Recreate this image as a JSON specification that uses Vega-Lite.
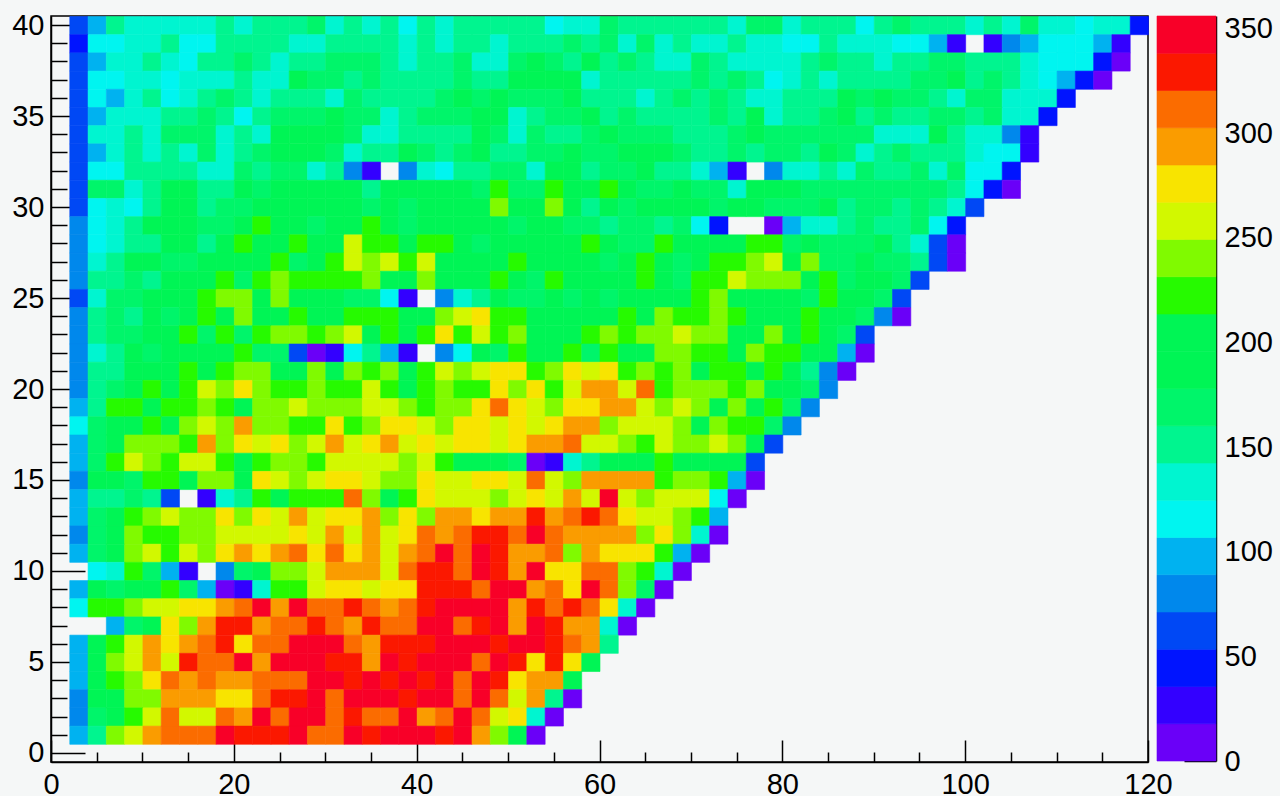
{"$schema":"https://vega.github.io/schema/vega-lite/v6.json","background":"#f5f7f7","padding":{"left":10,"top":10,"right":67,"bottom":35},"bounds":"flush","spacing":9,"config":{"view":{"stroke":null},"axis":{"labelFont":"Liberation Sans","labelFontSize":29,"labelColor":"#000","tickColor":"#000","domainColor":"#000","title":null,"grid":false,"labelFlush":false,"labelOverlap":false,"domainWidth":1.5,"tickWidth":1.5,"zindex":1}},"hconcat":[{"width":1097,"height":746,"view":{"stroke":"#000","strokeWidth":1.5},"data":{"values":[
{"x":3,"y":40,"v":62},{"x":5,"y":40,"v":98},{"x":7,"y":40,"v":151},{"x":9,"y":40,"v":133},{"x":11,"y":40,"v":133},{"x":13,"y":40,"v":133},{"x":15,"y":40,"v":133},{"x":17,"y":40,"v":133},{"x":19,"y":40,"v":151},{"x":21,"y":40,"v":133},{"x":23,"y":40,"v":151},{"x":25,"y":40,"v":151},{"x":27,"y":40,"v":151},{"x":29,"y":40,"v":169},{"x":31,"y":40,"v":133},{"x":33,"y":40,"v":151},{"x":35,"y":40,"v":133},{"x":37,"y":40,"v":151},{"x":39,"y":40,"v":116},{"x":41,"y":40,"v":151},{"x":43,"y":40,"v":133},{"x":45,"y":40,"v":151},{"x":47,"y":40,"v":151},{"x":49,"y":40,"v":151},{"x":51,"y":40,"v":151},{"x":53,"y":40,"v":151},{"x":55,"y":40,"v":116},{"x":57,"y":40,"v":133},{"x":59,"y":40,"v":133},{"x":61,"y":40,"v":169},{"x":63,"y":40,"v":151},{"x":65,"y":40,"v":151},{"x":67,"y":40,"v":151},{"x":69,"y":40,"v":151},{"x":71,"y":40,"v":151},{"x":73,"y":40,"v":151},{"x":75,"y":40,"v":133},{"x":77,"y":40,"v":169},{"x":79,"y":40,"v":169},{"x":81,"y":40,"v":133},{"x":83,"y":40,"v":151},{"x":85,"y":40,"v":151},{"x":87,"y":40,"v":151},{"x":89,"y":40,"v":116},{"x":91,"y":40,"v":151},{"x":93,"y":40,"v":169},{"x":95,"y":40,"v":151},{"x":97,"y":40,"v":151},{"x":99,"y":40,"v":151},{"x":101,"y":40,"v":133},{"x":103,"y":40,"v":151},{"x":105,"y":40,"v":133},{"x":107,"y":40,"v":169},{"x":109,"y":40,"v":133},{"x":111,"y":40,"v":133},{"x":113,"y":40,"v":116},{"x":115,"y":40,"v":133},{"x":117,"y":40,"v":133},{"x":119,"y":40,"v":45},
{"x":3,"y":39,"v":45},{"x":5,"y":39,"v":116},{"x":7,"y":39,"v":116},{"x":9,"y":39,"v":133},{"x":11,"y":39,"v":133},{"x":13,"y":39,"v":151},{"x":15,"y":39,"v":116},{"x":17,"y":39,"v":116},{"x":19,"y":39,"v":151},{"x":21,"y":39,"v":151},{"x":23,"y":39,"v":151},{"x":25,"y":39,"v":151},{"x":27,"y":39,"v":133},{"x":29,"y":39,"v":133},{"x":31,"y":39,"v":151},{"x":33,"y":39,"v":151},{"x":35,"y":39,"v":151},{"x":37,"y":39,"v":151},{"x":39,"y":39,"v":133},{"x":41,"y":39,"v":151},{"x":43,"y":39,"v":133},{"x":45,"y":39,"v":151},{"x":47,"y":39,"v":151},{"x":49,"y":39,"v":133},{"x":51,"y":39,"v":151},{"x":53,"y":39,"v":151},{"x":55,"y":39,"v":151},{"x":57,"y":39,"v":169},{"x":59,"y":39,"v":151},{"x":61,"y":39,"v":169},{"x":63,"y":39,"v":133},{"x":65,"y":39,"v":169},{"x":67,"y":39,"v":133},{"x":69,"y":39,"v":151},{"x":71,"y":39,"v":133},{"x":73,"y":39,"v":133},{"x":75,"y":39,"v":151},{"x":77,"y":39,"v":133},{"x":79,"y":39,"v":133},{"x":81,"y":39,"v":116},{"x":83,"y":39,"v":116},{"x":85,"y":39,"v":151},{"x":87,"y":39,"v":133},{"x":89,"y":39,"v":133},{"x":91,"y":39,"v":133},{"x":93,"y":39,"v":116},{"x":95,"y":39,"v":116},{"x":97,"y":39,"v":98},{"x":99,"y":39,"v":27},{"x":103,"y":39,"v":27},{"x":105,"y":39,"v":80},{"x":107,"y":39,"v":98},{"x":109,"y":39,"v":116},{"x":111,"y":39,"v":116},{"x":113,"y":39,"v":116},{"x":115,"y":39,"v":98},{"x":117,"y":39,"v":27},
{"x":3,"y":38,"v":62},{"x":5,"y":38,"v":98},{"x":7,"y":38,"v":133},{"x":9,"y":38,"v":133},{"x":11,"y":38,"v":151},{"x":13,"y":38,"v":133},{"x":15,"y":38,"v":116},{"x":17,"y":38,"v":151},{"x":19,"y":38,"v":151},{"x":21,"y":38,"v":169},{"x":23,"y":38,"v":151},{"x":25,"y":38,"v":133},{"x":27,"y":38,"v":151},{"x":29,"y":38,"v":151},{"x":31,"y":38,"v":169},{"x":33,"y":38,"v":169},{"x":35,"y":38,"v":169},{"x":37,"y":38,"v":151},{"x":39,"y":38,"v":133},{"x":41,"y":38,"v":151},{"x":43,"y":38,"v":151},{"x":45,"y":38,"v":169},{"x":47,"y":38,"v":133},{"x":49,"y":38,"v":133},{"x":51,"y":38,"v":169},{"x":53,"y":38,"v":190},{"x":55,"y":38,"v":169},{"x":57,"y":38,"v":151},{"x":59,"y":38,"v":190},{"x":61,"y":38,"v":151},{"x":63,"y":38,"v":169},{"x":65,"y":38,"v":151},{"x":67,"y":38,"v":133},{"x":69,"y":38,"v":133},{"x":71,"y":38,"v":169},{"x":73,"y":38,"v":151},{"x":75,"y":38,"v":133},{"x":77,"y":38,"v":133},{"x":79,"y":38,"v":133},{"x":81,"y":38,"v":133},{"x":83,"y":38,"v":151},{"x":85,"y":38,"v":169},{"x":87,"y":38,"v":151},{"x":89,"y":38,"v":151},{"x":91,"y":38,"v":133},{"x":93,"y":38,"v":151},{"x":95,"y":38,"v":151},{"x":97,"y":38,"v":169},{"x":99,"y":38,"v":169},{"x":101,"y":38,"v":151},{"x":103,"y":38,"v":151},{"x":105,"y":38,"v":151},{"x":107,"y":38,"v":133},{"x":109,"y":38,"v":116},{"x":111,"y":38,"v":116},{"x":113,"y":38,"v":116},{"x":115,"y":38,"v":45},{"x":117,"y":38,"v":9},
{"x":3,"y":37,"v":62},{"x":5,"y":37,"v":116},{"x":7,"y":37,"v":116},{"x":9,"y":37,"v":133},{"x":11,"y":37,"v":133},{"x":13,"y":37,"v":116},{"x":15,"y":37,"v":133},{"x":17,"y":37,"v":133},{"x":19,"y":37,"v":133},{"x":21,"y":37,"v":151},{"x":23,"y":37,"v":133},{"x":25,"y":37,"v":133},{"x":27,"y":37,"v":190},{"x":29,"y":37,"v":169},{"x":31,"y":37,"v":169},{"x":33,"y":37,"v":151},{"x":35,"y":37,"v":169},{"x":37,"y":37,"v":151},{"x":39,"y":37,"v":151},{"x":41,"y":37,"v":151},{"x":43,"y":37,"v":151},{"x":45,"y":37,"v":169},{"x":47,"y":37,"v":151},{"x":49,"y":37,"v":151},{"x":51,"y":37,"v":190},{"x":53,"y":37,"v":190},{"x":55,"y":37,"v":190},{"x":57,"y":37,"v":190},{"x":59,"y":37,"v":133},{"x":61,"y":37,"v":151},{"x":63,"y":37,"v":151},{"x":65,"y":37,"v":151},{"x":67,"y":37,"v":151},{"x":69,"y":37,"v":151},{"x":71,"y":37,"v":169},{"x":73,"y":37,"v":151},{"x":75,"y":37,"v":169},{"x":77,"y":37,"v":151},{"x":79,"y":37,"v":116},{"x":81,"y":37,"v":133},{"x":83,"y":37,"v":151},{"x":85,"y":37,"v":133},{"x":87,"y":37,"v":151},{"x":89,"y":37,"v":151},{"x":91,"y":37,"v":151},{"x":93,"y":37,"v":151},{"x":95,"y":37,"v":169},{"x":97,"y":37,"v":169},{"x":99,"y":37,"v":190},{"x":101,"y":37,"v":151},{"x":103,"y":37,"v":169},{"x":105,"y":37,"v":151},{"x":107,"y":37,"v":133},{"x":109,"y":37,"v":116},{"x":111,"y":37,"v":98},{"x":113,"y":37,"v":45},{"x":115,"y":37,"v":9},
{"x":3,"y":36,"v":62},{"x":5,"y":36,"v":116},{"x":7,"y":36,"v":98},{"x":9,"y":36,"v":133},{"x":11,"y":36,"v":151},{"x":13,"y":36,"v":116},{"x":15,"y":36,"v":133},{"x":17,"y":36,"v":151},{"x":19,"y":36,"v":169},{"x":21,"y":36,"v":151},{"x":23,"y":36,"v":133},{"x":25,"y":36,"v":151},{"x":27,"y":36,"v":151},{"x":29,"y":36,"v":151},{"x":31,"y":36,"v":133},{"x":33,"y":36,"v":169},{"x":35,"y":36,"v":151},{"x":37,"y":36,"v":151},{"x":39,"y":36,"v":151},{"x":41,"y":36,"v":151},{"x":43,"y":36,"v":169},{"x":45,"y":36,"v":190},{"x":47,"y":36,"v":169},{"x":49,"y":36,"v":190},{"x":51,"y":36,"v":169},{"x":53,"y":36,"v":169},{"x":55,"y":36,"v":169},{"x":57,"y":36,"v":190},{"x":59,"y":36,"v":151},{"x":61,"y":36,"v":151},{"x":63,"y":36,"v":151},{"x":65,"y":36,"v":133},{"x":67,"y":36,"v":151},{"x":69,"y":36,"v":169},{"x":71,"y":36,"v":151},{"x":73,"y":36,"v":169},{"x":75,"y":36,"v":151},{"x":77,"y":36,"v":133},{"x":79,"y":36,"v":133},{"x":81,"y":36,"v":151},{"x":83,"y":36,"v":151},{"x":85,"y":36,"v":151},{"x":87,"y":36,"v":190},{"x":89,"y":36,"v":169},{"x":91,"y":36,"v":190},{"x":93,"y":36,"v":169},{"x":95,"y":36,"v":169},{"x":97,"y":36,"v":151},{"x":99,"y":36,"v":133},{"x":101,"y":36,"v":169},{"x":103,"y":36,"v":169},{"x":105,"y":36,"v":133},{"x":107,"y":36,"v":133},{"x":109,"y":36,"v":133},{"x":111,"y":36,"v":45},
{"x":3,"y":35,"v":62},{"x":5,"y":35,"v":98},{"x":7,"y":35,"v":133},{"x":9,"y":35,"v":133},{"x":11,"y":35,"v":133},{"x":13,"y":35,"v":151},{"x":15,"y":35,"v":151},{"x":17,"y":35,"v":169},{"x":19,"y":35,"v":151},{"x":21,"y":35,"v":116},{"x":23,"y":35,"v":151},{"x":25,"y":35,"v":169},{"x":27,"y":35,"v":169},{"x":29,"y":35,"v":169},{"x":31,"y":35,"v":190},{"x":33,"y":35,"v":169},{"x":35,"y":35,"v":169},{"x":37,"y":35,"v":133},{"x":39,"y":35,"v":151},{"x":41,"y":35,"v":169},{"x":43,"y":35,"v":169},{"x":45,"y":35,"v":169},{"x":47,"y":35,"v":190},{"x":49,"y":35,"v":190},{"x":51,"y":35,"v":133},{"x":53,"y":35,"v":151},{"x":55,"y":35,"v":169},{"x":57,"y":35,"v":169},{"x":59,"y":35,"v":190},{"x":61,"y":35,"v":151},{"x":63,"y":35,"v":169},{"x":65,"y":35,"v":151},{"x":67,"y":35,"v":151},{"x":69,"y":35,"v":151},{"x":71,"y":35,"v":151},{"x":73,"y":35,"v":169},{"x":75,"y":35,"v":151},{"x":77,"y":35,"v":190},{"x":79,"y":35,"v":133},{"x":81,"y":35,"v":151},{"x":83,"y":35,"v":151},{"x":85,"y":35,"v":169},{"x":87,"y":35,"v":190},{"x":89,"y":35,"v":151},{"x":91,"y":35,"v":169},{"x":93,"y":35,"v":151},{"x":95,"y":35,"v":151},{"x":97,"y":35,"v":169},{"x":99,"y":35,"v":169},{"x":101,"y":35,"v":151},{"x":103,"y":35,"v":169},{"x":105,"y":35,"v":133},{"x":107,"y":35,"v":133},{"x":109,"y":35,"v":45},
{"x":3,"y":34,"v":62},{"x":5,"y":34,"v":133},{"x":7,"y":34,"v":133},{"x":9,"y":34,"v":151},{"x":11,"y":34,"v":133},{"x":13,"y":34,"v":169},{"x":15,"y":34,"v":169},{"x":17,"y":34,"v":169},{"x":19,"y":34,"v":133},{"x":21,"y":34,"v":151},{"x":23,"y":34,"v":133},{"x":25,"y":34,"v":190},{"x":27,"y":34,"v":190},{"x":29,"y":34,"v":190},{"x":31,"y":34,"v":190},{"x":33,"y":34,"v":169},{"x":35,"y":34,"v":133},{"x":37,"y":34,"v":133},{"x":39,"y":34,"v":151},{"x":41,"y":34,"v":151},{"x":43,"y":34,"v":151},{"x":45,"y":34,"v":151},{"x":47,"y":34,"v":190},{"x":49,"y":34,"v":169},{"x":51,"y":34,"v":133},{"x":53,"y":34,"v":169},{"x":55,"y":34,"v":151},{"x":57,"y":34,"v":151},{"x":59,"y":34,"v":169},{"x":61,"y":34,"v":190},{"x":63,"y":34,"v":169},{"x":65,"y":34,"v":169},{"x":67,"y":34,"v":169},{"x":69,"y":34,"v":151},{"x":71,"y":34,"v":151},{"x":73,"y":34,"v":151},{"x":75,"y":34,"v":169},{"x":77,"y":34,"v":190},{"x":79,"y":34,"v":169},{"x":81,"y":34,"v":169},{"x":83,"y":34,"v":169},{"x":85,"y":34,"v":169},{"x":87,"y":34,"v":169},{"x":89,"y":34,"v":169},{"x":91,"y":34,"v":133},{"x":93,"y":34,"v":133},{"x":95,"y":34,"v":133},{"x":97,"y":34,"v":190},{"x":99,"y":34,"v":151},{"x":101,"y":34,"v":133},{"x":103,"y":34,"v":133},{"x":105,"y":34,"v":80},{"x":107,"y":34,"v":27},
{"x":3,"y":33,"v":62},{"x":5,"y":33,"v":98},{"x":7,"y":33,"v":133},{"x":9,"y":33,"v":151},{"x":11,"y":33,"v":133},{"x":13,"y":33,"v":151},{"x":15,"y":33,"v":133},{"x":17,"y":33,"v":169},{"x":19,"y":33,"v":133},{"x":21,"y":33,"v":151},{"x":23,"y":33,"v":169},{"x":25,"y":33,"v":190},{"x":27,"y":33,"v":190},{"x":29,"y":33,"v":190},{"x":31,"y":33,"v":169},{"x":33,"y":33,"v":133},{"x":35,"y":33,"v":151},{"x":37,"y":33,"v":151},{"x":39,"y":33,"v":190},{"x":41,"y":33,"v":169},{"x":43,"y":33,"v":151},{"x":45,"y":33,"v":169},{"x":47,"y":33,"v":190},{"x":49,"y":33,"v":151},{"x":51,"y":33,"v":151},{"x":53,"y":33,"v":169},{"x":55,"y":33,"v":169},{"x":57,"y":33,"v":190},{"x":59,"y":33,"v":169},{"x":61,"y":33,"v":169},{"x":63,"y":33,"v":190},{"x":65,"y":33,"v":190},{"x":67,"y":33,"v":190},{"x":69,"y":33,"v":169},{"x":71,"y":33,"v":151},{"x":73,"y":33,"v":151},{"x":75,"y":33,"v":169},{"x":77,"y":33,"v":151},{"x":79,"y":33,"v":169},{"x":81,"y":33,"v":169},{"x":83,"y":33,"v":151},{"x":85,"y":33,"v":190},{"x":87,"y":33,"v":169},{"x":89,"y":33,"v":133},{"x":91,"y":33,"v":151},{"x":93,"y":33,"v":169},{"x":95,"y":33,"v":151},{"x":97,"y":33,"v":151},{"x":99,"y":33,"v":151},{"x":101,"y":33,"v":133},{"x":103,"y":33,"v":116},{"x":105,"y":33,"v":116},{"x":107,"y":33,"v":27},
{"x":3,"y":32,"v":62},{"x":5,"y":32,"v":116},{"x":7,"y":32,"v":116},{"x":9,"y":32,"v":151},{"x":11,"y":32,"v":151},{"x":13,"y":32,"v":151},{"x":15,"y":32,"v":151},{"x":17,"y":32,"v":133},{"x":19,"y":32,"v":133},{"x":21,"y":32,"v":169},{"x":23,"y":32,"v":151},{"x":25,"y":32,"v":169},{"x":27,"y":32,"v":169},{"x":29,"y":32,"v":133},{"x":31,"y":32,"v":151},{"x":33,"y":32,"v":80},{"x":35,"y":32,"v":27},{"x":39,"y":32,"v":80},{"x":41,"y":32,"v":133},{"x":43,"y":32,"v":116},{"x":45,"y":32,"v":151},{"x":47,"y":32,"v":151},{"x":49,"y":32,"v":169},{"x":51,"y":32,"v":169},{"x":53,"y":32,"v":133},{"x":55,"y":32,"v":190},{"x":57,"y":32,"v":190},{"x":59,"y":32,"v":151},{"x":61,"y":32,"v":169},{"x":63,"y":32,"v":169},{"x":65,"y":32,"v":190},{"x":67,"y":32,"v":151},{"x":69,"y":32,"v":151},{"x":71,"y":32,"v":133},{"x":73,"y":32,"v":98},{"x":75,"y":32,"v":27},{"x":79,"y":32,"v":80},{"x":81,"y":32,"v":133},{"x":83,"y":32,"v":133},{"x":85,"y":32,"v":151},{"x":87,"y":32,"v":133},{"x":89,"y":32,"v":169},{"x":91,"y":32,"v":151},{"x":93,"y":32,"v":151},{"x":95,"y":32,"v":169},{"x":97,"y":32,"v":133},{"x":99,"y":32,"v":169},{"x":101,"y":32,"v":116},{"x":103,"y":32,"v":116},{"x":105,"y":32,"v":45},
{"x":3,"y":31,"v":62},{"x":5,"y":31,"v":169},{"x":7,"y":31,"v":169},{"x":9,"y":31,"v":133},{"x":11,"y":31,"v":151},{"x":13,"y":31,"v":190},{"x":15,"y":31,"v":190},{"x":17,"y":31,"v":151},{"x":19,"y":31,"v":151},{"x":21,"y":31,"v":190},{"x":23,"y":31,"v":169},{"x":25,"y":31,"v":190},{"x":27,"y":31,"v":190},{"x":29,"y":31,"v":190},{"x":31,"y":31,"v":190},{"x":33,"y":31,"v":190},{"x":35,"y":31,"v":151},{"x":37,"y":31,"v":190},{"x":39,"y":31,"v":190},{"x":41,"y":31,"v":190},{"x":43,"y":31,"v":190},{"x":45,"y":31,"v":190},{"x":47,"y":31,"v":169},{"x":49,"y":31,"v":222},{"x":51,"y":31,"v":169},{"x":53,"y":31,"v":169},{"x":55,"y":31,"v":222},{"x":57,"y":31,"v":190},{"x":59,"y":31,"v":190},{"x":61,"y":31,"v":222},{"x":63,"y":31,"v":190},{"x":65,"y":31,"v":169},{"x":67,"y":31,"v":169},{"x":69,"y":31,"v":190},{"x":71,"y":31,"v":169},{"x":73,"y":31,"v":169},{"x":75,"y":31,"v":133},{"x":77,"y":31,"v":190},{"x":79,"y":31,"v":190},{"x":81,"y":31,"v":190},{"x":83,"y":31,"v":169},{"x":85,"y":31,"v":169},{"x":87,"y":31,"v":169},{"x":89,"y":31,"v":169},{"x":91,"y":31,"v":169},{"x":93,"y":31,"v":169},{"x":95,"y":31,"v":169},{"x":97,"y":31,"v":169},{"x":99,"y":31,"v":151},{"x":101,"y":31,"v":116},{"x":103,"y":31,"v":45},{"x":105,"y":31,"v":9},
{"x":3,"y":30,"v":62},{"x":5,"y":30,"v":116},{"x":7,"y":30,"v":133},{"x":9,"y":30,"v":116},{"x":11,"y":30,"v":151},{"x":13,"y":30,"v":190},{"x":15,"y":30,"v":190},{"x":17,"y":30,"v":151},{"x":19,"y":30,"v":169},{"x":21,"y":30,"v":169},{"x":23,"y":30,"v":190},{"x":25,"y":30,"v":190},{"x":27,"y":30,"v":190},{"x":29,"y":30,"v":190},{"x":31,"y":30,"v":190},{"x":33,"y":30,"v":190},{"x":35,"y":30,"v":169},{"x":37,"y":30,"v":190},{"x":39,"y":30,"v":169},{"x":41,"y":30,"v":190},{"x":43,"y":30,"v":190},{"x":45,"y":30,"v":190},{"x":47,"y":30,"v":190},{"x":49,"y":30,"v":240},{"x":51,"y":30,"v":190},{"x":53,"y":30,"v":190},{"x":55,"y":30,"v":240},{"x":57,"y":30,"v":190},{"x":59,"y":30,"v":151},{"x":61,"y":30,"v":190},{"x":63,"y":30,"v":169},{"x":65,"y":30,"v":190},{"x":67,"y":30,"v":190},{"x":69,"y":30,"v":190},{"x":71,"y":30,"v":190},{"x":73,"y":30,"v":169},{"x":75,"y":30,"v":190},{"x":77,"y":30,"v":190},{"x":79,"y":30,"v":169},{"x":81,"y":30,"v":169},{"x":83,"y":30,"v":169},{"x":85,"y":30,"v":190},{"x":87,"y":30,"v":151},{"x":89,"y":30,"v":169},{"x":91,"y":30,"v":169},{"x":93,"y":30,"v":151},{"x":95,"y":30,"v":169},{"x":97,"y":30,"v":151},{"x":99,"y":30,"v":133},{"x":101,"y":30,"v":62},
{"x":3,"y":29,"v":80},{"x":5,"y":29,"v":116},{"x":7,"y":29,"v":133},{"x":9,"y":29,"v":151},{"x":11,"y":29,"v":190},{"x":13,"y":29,"v":190},{"x":15,"y":29,"v":190},{"x":17,"y":29,"v":169},{"x":19,"y":29,"v":169},{"x":21,"y":29,"v":190},{"x":23,"y":29,"v":222},{"x":25,"y":29,"v":190},{"x":27,"y":29,"v":190},{"x":29,"y":29,"v":169},{"x":31,"y":29,"v":190},{"x":33,"y":29,"v":190},{"x":35,"y":29,"v":222},{"x":37,"y":29,"v":190},{"x":39,"y":29,"v":169},{"x":41,"y":29,"v":190},{"x":43,"y":29,"v":190},{"x":45,"y":29,"v":190},{"x":47,"y":29,"v":190},{"x":49,"y":29,"v":190},{"x":51,"y":29,"v":169},{"x":53,"y":29,"v":190},{"x":55,"y":29,"v":190},{"x":57,"y":29,"v":169},{"x":59,"y":29,"v":169},{"x":61,"y":29,"v":151},{"x":63,"y":29,"v":169},{"x":65,"y":29,"v":169},{"x":67,"y":29,"v":151},{"x":69,"y":29,"v":169},{"x":71,"y":29,"v":116},{"x":73,"y":29,"v":45},{"x":79,"y":29,"v":9},{"x":81,"y":29,"v":98},{"x":83,"y":29,"v":133},{"x":85,"y":29,"v":133},{"x":87,"y":29,"v":151},{"x":89,"y":29,"v":169},{"x":91,"y":29,"v":151},{"x":93,"y":29,"v":151},{"x":95,"y":29,"v":169},{"x":97,"y":29,"v":116},{"x":99,"y":29,"v":45},
{"x":3,"y":28,"v":80},{"x":5,"y":28,"v":116},{"x":7,"y":28,"v":133},{"x":9,"y":28,"v":151},{"x":11,"y":28,"v":151},{"x":13,"y":28,"v":190},{"x":15,"y":28,"v":190},{"x":17,"y":28,"v":151},{"x":19,"y":28,"v":190},{"x":21,"y":28,"v":222},{"x":23,"y":28,"v":190},{"x":25,"y":28,"v":190},{"x":27,"y":28,"v":222},{"x":29,"y":28,"v":190},{"x":31,"y":28,"v":190},{"x":33,"y":28,"v":258},{"x":35,"y":28,"v":222},{"x":37,"y":28,"v":222},{"x":39,"y":28,"v":190},{"x":41,"y":28,"v":222},{"x":43,"y":28,"v":222},{"x":45,"y":28,"v":190},{"x":47,"y":28,"v":169},{"x":49,"y":28,"v":190},{"x":51,"y":28,"v":190},{"x":53,"y":28,"v":190},{"x":55,"y":28,"v":190},{"x":57,"y":28,"v":190},{"x":59,"y":28,"v":222},{"x":61,"y":28,"v":190},{"x":63,"y":28,"v":169},{"x":65,"y":28,"v":169},{"x":67,"y":28,"v":222},{"x":69,"y":28,"v":190},{"x":71,"y":28,"v":190},{"x":73,"y":28,"v":190},{"x":75,"y":28,"v":190},{"x":77,"y":28,"v":222},{"x":79,"y":28,"v":222},{"x":81,"y":28,"v":169},{"x":83,"y":28,"v":190},{"x":85,"y":28,"v":169},{"x":87,"y":28,"v":169},{"x":89,"y":28,"v":169},{"x":91,"y":28,"v":190},{"x":93,"y":28,"v":151},{"x":95,"y":28,"v":133},{"x":97,"y":28,"v":62},{"x":99,"y":28,"v":9},
{"x":3,"y":27,"v":80},{"x":5,"y":27,"v":133},{"x":7,"y":27,"v":151},{"x":9,"y":27,"v":190},{"x":11,"y":27,"v":190},{"x":13,"y":27,"v":169},{"x":15,"y":27,"v":169},{"x":17,"y":27,"v":190},{"x":19,"y":27,"v":190},{"x":21,"y":27,"v":190},{"x":23,"y":27,"v":190},{"x":25,"y":27,"v":222},{"x":27,"y":27,"v":169},{"x":29,"y":27,"v":190},{"x":31,"y":27,"v":222},{"x":33,"y":27,"v":258},{"x":35,"y":27,"v":240},{"x":37,"y":27,"v":258},{"x":39,"y":27,"v":222},{"x":41,"y":27,"v":258},{"x":43,"y":27,"v":190},{"x":45,"y":27,"v":190},{"x":47,"y":27,"v":190},{"x":49,"y":27,"v":190},{"x":51,"y":27,"v":222},{"x":53,"y":27,"v":190},{"x":55,"y":27,"v":190},{"x":57,"y":27,"v":190},{"x":59,"y":27,"v":190},{"x":61,"y":27,"v":169},{"x":63,"y":27,"v":190},{"x":65,"y":27,"v":222},{"x":67,"y":27,"v":190},{"x":69,"y":27,"v":169},{"x":71,"y":27,"v":190},{"x":73,"y":27,"v":222},{"x":75,"y":27,"v":222},{"x":77,"y":27,"v":240},{"x":79,"y":27,"v":258},{"x":81,"y":27,"v":190},{"x":83,"y":27,"v":240},{"x":85,"y":27,"v":169},{"x":87,"y":27,"v":169},{"x":89,"y":27,"v":190},{"x":91,"y":27,"v":169},{"x":93,"y":27,"v":169},{"x":95,"y":27,"v":151},{"x":97,"y":27,"v":62},{"x":99,"y":27,"v":9},
{"x":3,"y":26,"v":80},{"x":5,"y":26,"v":151},{"x":7,"y":26,"v":151},{"x":9,"y":26,"v":169},{"x":11,"y":26,"v":151},{"x":13,"y":26,"v":190},{"x":15,"y":26,"v":190},{"x":17,"y":26,"v":190},{"x":19,"y":26,"v":222},{"x":21,"y":26,"v":169},{"x":23,"y":26,"v":222},{"x":25,"y":26,"v":240},{"x":27,"y":26,"v":222},{"x":29,"y":26,"v":222},{"x":31,"y":26,"v":222},{"x":33,"y":26,"v":222},{"x":35,"y":26,"v":240},{"x":37,"y":26,"v":190},{"x":39,"y":26,"v":190},{"x":41,"y":26,"v":240},{"x":43,"y":26,"v":190},{"x":45,"y":26,"v":190},{"x":47,"y":26,"v":190},{"x":49,"y":26,"v":222},{"x":51,"y":26,"v":190},{"x":53,"y":26,"v":169},{"x":55,"y":26,"v":222},{"x":57,"y":26,"v":190},{"x":59,"y":26,"v":190},{"x":61,"y":26,"v":190},{"x":63,"y":26,"v":190},{"x":65,"y":26,"v":222},{"x":67,"y":26,"v":190},{"x":69,"y":26,"v":169},{"x":71,"y":26,"v":222},{"x":73,"y":26,"v":222},{"x":75,"y":26,"v":258},{"x":77,"y":26,"v":240},{"x":79,"y":26,"v":240},{"x":81,"y":26,"v":240},{"x":83,"y":26,"v":190},{"x":85,"y":26,"v":222},{"x":87,"y":26,"v":169},{"x":89,"y":26,"v":190},{"x":91,"y":26,"v":190},{"x":93,"y":26,"v":169},{"x":95,"y":26,"v":62},
{"x":3,"y":25,"v":62},{"x":5,"y":25,"v":133},{"x":7,"y":25,"v":169},{"x":9,"y":25,"v":169},{"x":11,"y":25,"v":190},{"x":13,"y":25,"v":190},{"x":15,"y":25,"v":190},{"x":17,"y":25,"v":222},{"x":19,"y":25,"v":240},{"x":21,"y":25,"v":240},{"x":23,"y":25,"v":190},{"x":25,"y":25,"v":240},{"x":27,"y":25,"v":190},{"x":29,"y":25,"v":190},{"x":31,"y":25,"v":190},{"x":33,"y":25,"v":169},{"x":35,"y":25,"v":169},{"x":37,"y":25,"v":116},{"x":39,"y":25,"v":27},{"x":43,"y":25,"v":80},{"x":45,"y":25,"v":133},{"x":47,"y":25,"v":151},{"x":49,"y":25,"v":190},{"x":51,"y":25,"v":169},{"x":53,"y":25,"v":169},{"x":55,"y":25,"v":190},{"x":57,"y":25,"v":169},{"x":59,"y":25,"v":190},{"x":61,"y":25,"v":169},{"x":63,"y":25,"v":190},{"x":65,"y":25,"v":190},{"x":67,"y":25,"v":190},{"x":69,"y":25,"v":190},{"x":71,"y":25,"v":222},{"x":73,"y":25,"v":240},{"x":75,"y":25,"v":190},{"x":77,"y":25,"v":190},{"x":79,"y":25,"v":190},{"x":81,"y":25,"v":190},{"x":83,"y":25,"v":169},{"x":85,"y":25,"v":222},{"x":87,"y":25,"v":190},{"x":89,"y":25,"v":190},{"x":91,"y":25,"v":169},{"x":93,"y":25,"v":62},
{"x":3,"y":24,"v":80},{"x":5,"y":24,"v":151},{"x":7,"y":24,"v":169},{"x":9,"y":24,"v":151},{"x":11,"y":24,"v":190},{"x":13,"y":24,"v":169},{"x":15,"y":24,"v":190},{"x":17,"y":24,"v":222},{"x":19,"y":24,"v":190},{"x":21,"y":24,"v":240},{"x":23,"y":24,"v":190},{"x":25,"y":24,"v":190},{"x":27,"y":24,"v":222},{"x":29,"y":24,"v":190},{"x":31,"y":24,"v":190},{"x":33,"y":24,"v":222},{"x":35,"y":24,"v":222},{"x":37,"y":24,"v":222},{"x":39,"y":24,"v":190},{"x":41,"y":24,"v":190},{"x":43,"y":24,"v":240},{"x":45,"y":24,"v":258},{"x":47,"y":24,"v":276},{"x":49,"y":24,"v":222},{"x":51,"y":24,"v":222},{"x":53,"y":24,"v":190},{"x":55,"y":24,"v":190},{"x":57,"y":24,"v":190},{"x":59,"y":24,"v":190},{"x":61,"y":24,"v":190},{"x":63,"y":24,"v":222},{"x":65,"y":24,"v":190},{"x":67,"y":24,"v":240},{"x":69,"y":24,"v":222},{"x":71,"y":24,"v":222},{"x":73,"y":24,"v":240},{"x":75,"y":24,"v":222},{"x":77,"y":24,"v":190},{"x":79,"y":24,"v":190},{"x":81,"y":24,"v":190},{"x":83,"y":24,"v":222},{"x":85,"y":24,"v":190},{"x":87,"y":24,"v":190},{"x":89,"y":24,"v":169},{"x":91,"y":24,"v":80},{"x":93,"y":24,"v":9},
{"x":3,"y":23,"v":80},{"x":5,"y":23,"v":151},{"x":7,"y":23,"v":169},{"x":9,"y":23,"v":169},{"x":11,"y":23,"v":190},{"x":13,"y":23,"v":190},{"x":15,"y":23,"v":222},{"x":17,"y":23,"v":169},{"x":19,"y":23,"v":222},{"x":21,"y":23,"v":169},{"x":23,"y":23,"v":222},{"x":25,"y":23,"v":240},{"x":27,"y":23,"v":240},{"x":29,"y":23,"v":222},{"x":31,"y":23,"v":240},{"x":33,"y":23,"v":258},{"x":35,"y":23,"v":190},{"x":37,"y":23,"v":222},{"x":39,"y":23,"v":190},{"x":41,"y":23,"v":222},{"x":43,"y":23,"v":276},{"x":45,"y":23,"v":222},{"x":47,"y":23,"v":258},{"x":49,"y":23,"v":222},{"x":51,"y":23,"v":240},{"x":53,"y":23,"v":190},{"x":55,"y":23,"v":190},{"x":57,"y":23,"v":190},{"x":59,"y":23,"v":222},{"x":61,"y":23,"v":240},{"x":63,"y":23,"v":222},{"x":65,"y":23,"v":240},{"x":67,"y":23,"v":240},{"x":69,"y":23,"v":258},{"x":71,"y":23,"v":240},{"x":73,"y":23,"v":240},{"x":75,"y":23,"v":190},{"x":77,"y":23,"v":190},{"x":79,"y":23,"v":240},{"x":81,"y":23,"v":190},{"x":83,"y":23,"v":222},{"x":85,"y":23,"v":190},{"x":87,"y":23,"v":169},{"x":89,"y":23,"v":62},
{"x":3,"y":22,"v":80},{"x":5,"y":22,"v":133},{"x":7,"y":22,"v":151},{"x":9,"y":22,"v":190},{"x":11,"y":22,"v":169},{"x":13,"y":22,"v":190},{"x":15,"y":22,"v":190},{"x":17,"y":22,"v":190},{"x":19,"y":22,"v":190},{"x":21,"y":22,"v":222},{"x":23,"y":22,"v":169},{"x":25,"y":22,"v":169},{"x":27,"y":22,"v":62},{"x":29,"y":22,"v":9},{"x":31,"y":22,"v":27},{"x":33,"y":22,"v":116},{"x":35,"y":22,"v":151},{"x":37,"y":22,"v":98},{"x":39,"y":22,"v":27},{"x":43,"y":22,"v":80},{"x":45,"y":22,"v":116},{"x":47,"y":22,"v":190},{"x":49,"y":22,"v":169},{"x":51,"y":22,"v":222},{"x":53,"y":22,"v":190},{"x":55,"y":22,"v":190},{"x":57,"y":22,"v":222},{"x":59,"y":22,"v":169},{"x":61,"y":22,"v":222},{"x":63,"y":22,"v":190},{"x":65,"y":22,"v":190},{"x":67,"y":22,"v":240},{"x":69,"y":22,"v":240},{"x":71,"y":22,"v":222},{"x":73,"y":22,"v":222},{"x":75,"y":22,"v":190},{"x":77,"y":22,"v":240},{"x":79,"y":22,"v":222},{"x":81,"y":22,"v":222},{"x":83,"y":22,"v":190},{"x":85,"y":22,"v":190},{"x":87,"y":22,"v":98},{"x":89,"y":22,"v":9},
{"x":3,"y":21,"v":80},{"x":5,"y":21,"v":151},{"x":7,"y":21,"v":151},{"x":9,"y":21,"v":190},{"x":11,"y":21,"v":190},{"x":13,"y":21,"v":190},{"x":15,"y":21,"v":222},{"x":17,"y":21,"v":190},{"x":19,"y":21,"v":222},{"x":21,"y":21,"v":240},{"x":23,"y":21,"v":240},{"x":25,"y":21,"v":190},{"x":27,"y":21,"v":190},{"x":29,"y":21,"v":240},{"x":31,"y":21,"v":190},{"x":33,"y":21,"v":240},{"x":35,"y":21,"v":222},{"x":37,"y":21,"v":240},{"x":39,"y":21,"v":190},{"x":41,"y":21,"v":222},{"x":43,"y":21,"v":258},{"x":45,"y":21,"v":240},{"x":47,"y":21,"v":258},{"x":49,"y":21,"v":276},{"x":51,"y":21,"v":276},{"x":53,"y":21,"v":222},{"x":55,"y":21,"v":240},{"x":57,"y":21,"v":276},{"x":59,"y":21,"v":258},{"x":61,"y":21,"v":276},{"x":63,"y":21,"v":222},{"x":65,"y":21,"v":240},{"x":67,"y":21,"v":222},{"x":69,"y":21,"v":240},{"x":71,"y":21,"v":190},{"x":73,"y":21,"v":222},{"x":75,"y":21,"v":222},{"x":77,"y":21,"v":190},{"x":79,"y":21,"v":222},{"x":81,"y":21,"v":190},{"x":83,"y":21,"v":151},{"x":85,"y":21,"v":80},{"x":87,"y":21,"v":9},
{"x":3,"y":20,"v":80},{"x":5,"y":20,"v":151},{"x":7,"y":20,"v":169},{"x":9,"y":20,"v":190},{"x":11,"y":20,"v":222},{"x":13,"y":20,"v":190},{"x":15,"y":20,"v":222},{"x":17,"y":20,"v":258},{"x":19,"y":20,"v":240},{"x":21,"y":20,"v":276},{"x":23,"y":20,"v":240},{"x":25,"y":20,"v":222},{"x":27,"y":20,"v":222},{"x":29,"y":20,"v":240},{"x":31,"y":20,"v":222},{"x":33,"y":20,"v":222},{"x":35,"y":20,"v":258},{"x":37,"y":20,"v":222},{"x":39,"y":20,"v":190},{"x":41,"y":20,"v":222},{"x":43,"y":20,"v":240},{"x":45,"y":20,"v":222},{"x":47,"y":20,"v":222},{"x":49,"y":20,"v":276},{"x":51,"y":20,"v":240},{"x":53,"y":20,"v":276},{"x":55,"y":20,"v":222},{"x":57,"y":20,"v":258},{"x":59,"y":20,"v":294},{"x":61,"y":20,"v":294},{"x":63,"y":20,"v":258},{"x":65,"y":20,"v":312},{"x":67,"y":20,"v":222},{"x":69,"y":20,"v":240},{"x":71,"y":20,"v":240},{"x":73,"y":20,"v":240},{"x":75,"y":20,"v":222},{"x":77,"y":20,"v":240},{"x":79,"y":20,"v":190},{"x":81,"y":20,"v":190},{"x":83,"y":20,"v":169},{"x":85,"y":20,"v":80},
{"x":3,"y":19,"v":98},{"x":5,"y":19,"v":151},{"x":7,"y":19,"v":222},{"x":9,"y":19,"v":222},{"x":11,"y":19,"v":190},{"x":13,"y":19,"v":222},{"x":15,"y":19,"v":222},{"x":17,"y":19,"v":240},{"x":19,"y":19,"v":222},{"x":21,"y":19,"v":190},{"x":23,"y":19,"v":240},{"x":25,"y":19,"v":240},{"x":27,"y":19,"v":258},{"x":29,"y":19,"v":240},{"x":31,"y":19,"v":240},{"x":33,"y":19,"v":240},{"x":35,"y":19,"v":258},{"x":37,"y":19,"v":258},{"x":39,"y":19,"v":240},{"x":41,"y":19,"v":222},{"x":43,"y":19,"v":240},{"x":45,"y":19,"v":240},{"x":47,"y":19,"v":276},{"x":49,"y":19,"v":312},{"x":51,"y":19,"v":276},{"x":53,"y":19,"v":258},{"x":55,"y":19,"v":240},{"x":57,"y":19,"v":276},{"x":59,"y":19,"v":276},{"x":61,"y":19,"v":294},{"x":63,"y":19,"v":294},{"x":65,"y":19,"v":258},{"x":67,"y":19,"v":240},{"x":69,"y":19,"v":258},{"x":71,"y":19,"v":240},{"x":73,"y":19,"v":190},{"x":75,"y":19,"v":240},{"x":77,"y":19,"v":190},{"x":79,"y":19,"v":222},{"x":81,"y":19,"v":169},{"x":83,"y":19,"v":80},
{"x":3,"y":18,"v":116},{"x":5,"y":18,"v":169},{"x":7,"y":18,"v":190},{"x":9,"y":18,"v":190},{"x":11,"y":18,"v":222},{"x":13,"y":18,"v":190},{"x":15,"y":18,"v":240},{"x":17,"y":18,"v":258},{"x":19,"y":18,"v":240},{"x":21,"y":18,"v":294},{"x":23,"y":18,"v":240},{"x":25,"y":18,"v":240},{"x":27,"y":18,"v":222},{"x":29,"y":18,"v":222},{"x":31,"y":18,"v":276},{"x":33,"y":18,"v":222},{"x":35,"y":18,"v":240},{"x":37,"y":18,"v":276},{"x":39,"y":18,"v":276},{"x":41,"y":18,"v":258},{"x":43,"y":18,"v":240},{"x":45,"y":18,"v":276},{"x":47,"y":18,"v":276},{"x":49,"y":18,"v":258},{"x":51,"y":18,"v":276},{"x":53,"y":18,"v":258},{"x":55,"y":18,"v":276},{"x":57,"y":18,"v":294},{"x":59,"y":18,"v":294},{"x":61,"y":18,"v":240},{"x":63,"y":18,"v":258},{"x":65,"y":18,"v":258},{"x":67,"y":18,"v":258},{"x":69,"y":18,"v":240},{"x":71,"y":18,"v":190},{"x":73,"y":18,"v":240},{"x":75,"y":18,"v":222},{"x":77,"y":18,"v":222},{"x":79,"y":18,"v":169},{"x":81,"y":18,"v":80},
{"x":3,"y":17,"v":98},{"x":5,"y":17,"v":169},{"x":7,"y":17,"v":190},{"x":9,"y":17,"v":240},{"x":11,"y":17,"v":240},{"x":13,"y":17,"v":240},{"x":15,"y":17,"v":222},{"x":17,"y":17,"v":294},{"x":19,"y":17,"v":240},{"x":21,"y":17,"v":276},{"x":23,"y":17,"v":258},{"x":25,"y":17,"v":276},{"x":27,"y":17,"v":240},{"x":29,"y":17,"v":258},{"x":31,"y":17,"v":294},{"x":33,"y":17,"v":258},{"x":35,"y":17,"v":276},{"x":37,"y":17,"v":294},{"x":39,"y":17,"v":258},{"x":41,"y":17,"v":276},{"x":43,"y":17,"v":258},{"x":45,"y":17,"v":276},{"x":47,"y":17,"v":276},{"x":49,"y":17,"v":258},{"x":51,"y":17,"v":276},{"x":53,"y":17,"v":294},{"x":55,"y":17,"v":294},{"x":57,"y":17,"v":312},{"x":59,"y":17,"v":258},{"x":61,"y":17,"v":258},{"x":63,"y":17,"v":240},{"x":65,"y":17,"v":222},{"x":67,"y":17,"v":258},{"x":69,"y":17,"v":240},{"x":71,"y":17,"v":240},{"x":73,"y":17,"v":258},{"x":75,"y":17,"v":240},{"x":77,"y":17,"v":190},{"x":79,"y":17,"v":62},
{"x":3,"y":16,"v":98},{"x":5,"y":16,"v":169},{"x":7,"y":16,"v":222},{"x":9,"y":16,"v":258},{"x":11,"y":16,"v":240},{"x":13,"y":16,"v":222},{"x":15,"y":16,"v":258},{"x":17,"y":16,"v":258},{"x":19,"y":16,"v":222},{"x":21,"y":16,"v":190},{"x":23,"y":16,"v":222},{"x":25,"y":16,"v":240},{"x":27,"y":16,"v":240},{"x":29,"y":16,"v":222},{"x":31,"y":16,"v":258},{"x":33,"y":16,"v":258},{"x":35,"y":16,"v":258},{"x":37,"y":16,"v":258},{"x":39,"y":16,"v":240},{"x":41,"y":16,"v":258},{"x":43,"y":16,"v":222},{"x":45,"y":16,"v":190},{"x":47,"y":16,"v":190},{"x":49,"y":16,"v":190},{"x":51,"y":16,"v":169},{"x":53,"y":16,"v":9},{"x":55,"y":16,"v":27},{"x":57,"y":16,"v":133},{"x":59,"y":16,"v":151},{"x":61,"y":16,"v":190},{"x":63,"y":16,"v":190},{"x":65,"y":16,"v":190},{"x":67,"y":16,"v":222},{"x":69,"y":16,"v":190},{"x":71,"y":16,"v":190},{"x":73,"y":16,"v":190},{"x":75,"y":16,"v":190},{"x":77,"y":16,"v":62},
{"x":3,"y":15,"v":80},{"x":5,"y":15,"v":190},{"x":7,"y":15,"v":190},{"x":9,"y":15,"v":169},{"x":11,"y":15,"v":222},{"x":13,"y":15,"v":222},{"x":15,"y":15,"v":190},{"x":17,"y":15,"v":240},{"x":19,"y":15,"v":240},{"x":21,"y":15,"v":190},{"x":23,"y":15,"v":276},{"x":25,"y":15,"v":258},{"x":27,"y":15,"v":240},{"x":29,"y":15,"v":258},{"x":31,"y":15,"v":276},{"x":33,"y":15,"v":276},{"x":35,"y":15,"v":258},{"x":37,"y":15,"v":240},{"x":39,"y":15,"v":240},{"x":41,"y":15,"v":276},{"x":43,"y":15,"v":258},{"x":45,"y":15,"v":258},{"x":47,"y":15,"v":276},{"x":49,"y":15,"v":276},{"x":51,"y":15,"v":258},{"x":53,"y":15,"v":312},{"x":55,"y":15,"v":258},{"x":57,"y":15,"v":240},{"x":59,"y":15,"v":294},{"x":61,"y":15,"v":294},{"x":63,"y":15,"v":294},{"x":65,"y":15,"v":294},{"x":67,"y":15,"v":222},{"x":69,"y":15,"v":240},{"x":71,"y":15,"v":240},{"x":73,"y":15,"v":222},{"x":75,"y":15,"v":98},{"x":77,"y":15,"v":9},
{"x":3,"y":14,"v":98},{"x":5,"y":14,"v":151},{"x":7,"y":14,"v":151},{"x":9,"y":14,"v":169},{"x":11,"y":14,"v":151},{"x":13,"y":14,"v":62},{"x":17,"y":14,"v":27},{"x":19,"y":14,"v":133},{"x":21,"y":14,"v":151},{"x":23,"y":14,"v":222},{"x":25,"y":14,"v":190},{"x":27,"y":14,"v":222},{"x":29,"y":14,"v":222},{"x":31,"y":14,"v":222},{"x":33,"y":14,"v":312},{"x":35,"y":14,"v":240},{"x":37,"y":14,"v":190},{"x":39,"y":14,"v":222},{"x":41,"y":14,"v":276},{"x":43,"y":14,"v":258},{"x":45,"y":14,"v":258},{"x":47,"y":14,"v":258},{"x":49,"y":14,"v":240},{"x":51,"y":14,"v":258},{"x":53,"y":14,"v":276},{"x":55,"y":14,"v":258},{"x":57,"y":14,"v":294},{"x":59,"y":14,"v":258},{"x":61,"y":14,"v":347},{"x":63,"y":14,"v":258},{"x":65,"y":14,"v":240},{"x":67,"y":14,"v":258},{"x":69,"y":14,"v":258},{"x":71,"y":14,"v":258},{"x":73,"y":14,"v":116},{"x":75,"y":14,"v":9},
{"x":3,"y":13,"v":98},{"x":5,"y":13,"v":169},{"x":7,"y":13,"v":190},{"x":9,"y":13,"v":222},{"x":11,"y":13,"v":240},{"x":13,"y":13,"v":258},{"x":15,"y":13,"v":240},{"x":17,"y":13,"v":240},{"x":19,"y":13,"v":276},{"x":21,"y":13,"v":240},{"x":23,"y":13,"v":276},{"x":25,"y":13,"v":258},{"x":27,"y":13,"v":294},{"x":29,"y":13,"v":258},{"x":31,"y":13,"v":276},{"x":33,"y":13,"v":276},{"x":35,"y":13,"v":294},{"x":37,"y":13,"v":240},{"x":39,"y":13,"v":276},{"x":41,"y":13,"v":240},{"x":43,"y":13,"v":294},{"x":45,"y":13,"v":294},{"x":47,"y":13,"v":276},{"x":49,"y":13,"v":294},{"x":51,"y":13,"v":294},{"x":53,"y":13,"v":329},{"x":55,"y":13,"v":294},{"x":57,"y":13,"v":312},{"x":59,"y":13,"v":329},{"x":61,"y":13,"v":312},{"x":63,"y":13,"v":276},{"x":65,"y":13,"v":258},{"x":67,"y":13,"v":258},{"x":69,"y":13,"v":240},{"x":71,"y":13,"v":222},{"x":73,"y":13,"v":98},
{"x":3,"y":12,"v":80},{"x":5,"y":12,"v":169},{"x":7,"y":12,"v":190},{"x":9,"y":12,"v":240},{"x":11,"y":12,"v":222},{"x":13,"y":12,"v":222},{"x":15,"y":12,"v":240},{"x":17,"y":12,"v":240},{"x":19,"y":12,"v":258},{"x":21,"y":12,"v":258},{"x":23,"y":12,"v":258},{"x":25,"y":12,"v":258},{"x":27,"y":12,"v":276},{"x":29,"y":12,"v":258},{"x":31,"y":12,"v":294},{"x":33,"y":12,"v":258},{"x":35,"y":12,"v":294},{"x":37,"y":12,"v":258},{"x":39,"y":12,"v":276},{"x":41,"y":12,"v":312},{"x":43,"y":12,"v":294},{"x":45,"y":12,"v":312},{"x":47,"y":12,"v":329},{"x":49,"y":12,"v":329},{"x":51,"y":12,"v":312},{"x":53,"y":12,"v":347},{"x":55,"y":12,"v":312},{"x":57,"y":12,"v":294},{"x":59,"y":12,"v":294},{"x":61,"y":12,"v":294},{"x":63,"y":12,"v":294},{"x":65,"y":12,"v":240},{"x":67,"y":12,"v":276},{"x":69,"y":12,"v":240},{"x":71,"y":12,"v":133},{"x":73,"y":12,"v":9},
{"x":3,"y":11,"v":98},{"x":5,"y":11,"v":169},{"x":7,"y":11,"v":190},{"x":9,"y":11,"v":240},{"x":11,"y":11,"v":258},{"x":13,"y":11,"v":222},{"x":15,"y":11,"v":258},{"x":17,"y":11,"v":240},{"x":19,"y":11,"v":276},{"x":21,"y":11,"v":294},{"x":23,"y":11,"v":276},{"x":25,"y":11,"v":294},{"x":27,"y":11,"v":312},{"x":29,"y":11,"v":276},{"x":31,"y":11,"v":312},{"x":33,"y":11,"v":276},{"x":35,"y":11,"v":294},{"x":37,"y":11,"v":258},{"x":39,"y":11,"v":294},{"x":41,"y":11,"v":312},{"x":43,"y":11,"v":347},{"x":45,"y":11,"v":312},{"x":47,"y":11,"v":347},{"x":49,"y":11,"v":329},{"x":51,"y":11,"v":294},{"x":53,"y":11,"v":294},{"x":55,"y":11,"v":312},{"x":57,"y":11,"v":240},{"x":59,"y":11,"v":294},{"x":61,"y":11,"v":276},{"x":63,"y":11,"v":276},{"x":65,"y":11,"v":276},{"x":67,"y":11,"v":222},{"x":69,"y":11,"v":98},{"x":71,"y":11,"v":9},
{"x":5,"y":10,"v":116},{"x":7,"y":10,"v":133},{"x":9,"y":10,"v":222},{"x":11,"y":10,"v":169},{"x":13,"y":10,"v":98},{"x":15,"y":10,"v":27},{"x":19,"y":10,"v":80},{"x":21,"y":10,"v":169},{"x":23,"y":10,"v":190},{"x":25,"y":10,"v":240},{"x":27,"y":10,"v":240},{"x":29,"y":10,"v":258},{"x":31,"y":10,"v":294},{"x":33,"y":10,"v":294},{"x":35,"y":10,"v":294},{"x":37,"y":10,"v":258},{"x":39,"y":10,"v":312},{"x":41,"y":10,"v":329},{"x":43,"y":10,"v":329},{"x":45,"y":10,"v":312},{"x":47,"y":10,"v":347},{"x":49,"y":10,"v":329},{"x":51,"y":10,"v":294},{"x":53,"y":10,"v":347},{"x":55,"y":10,"v":276},{"x":57,"y":10,"v":276},{"x":59,"y":10,"v":312},{"x":61,"y":10,"v":312},{"x":63,"y":10,"v":240},{"x":65,"y":10,"v":222},{"x":67,"y":10,"v":133},{"x":69,"y":10,"v":9},
{"x":3,"y":9,"v":98},{"x":5,"y":9,"v":190},{"x":7,"y":9,"v":169},{"x":9,"y":9,"v":190},{"x":11,"y":9,"v":190},{"x":13,"y":9,"v":222},{"x":15,"y":9,"v":169},{"x":17,"y":9,"v":98},{"x":19,"y":9,"v":9},{"x":21,"y":9,"v":27},{"x":23,"y":9,"v":133},{"x":25,"y":9,"v":222},{"x":27,"y":9,"v":222},{"x":29,"y":9,"v":258},{"x":31,"y":9,"v":276},{"x":33,"y":9,"v":276},{"x":35,"y":9,"v":258},{"x":37,"y":9,"v":276},{"x":39,"y":9,"v":276},{"x":41,"y":9,"v":329},{"x":43,"y":9,"v":329},{"x":45,"y":9,"v":329},{"x":47,"y":9,"v":312},{"x":49,"y":9,"v":347},{"x":51,"y":9,"v":347},{"x":53,"y":9,"v":294},{"x":55,"y":9,"v":312},{"x":57,"y":9,"v":276},{"x":59,"y":9,"v":347},{"x":61,"y":9,"v":312},{"x":63,"y":9,"v":240},{"x":65,"y":9,"v":169},{"x":67,"y":9,"v":9},
{"x":3,"y":8,"v":116},{"x":5,"y":8,"v":222},{"x":7,"y":8,"v":222},{"x":9,"y":8,"v":240},{"x":11,"y":8,"v":258},{"x":13,"y":8,"v":258},{"x":15,"y":8,"v":276},{"x":17,"y":8,"v":276},{"x":19,"y":8,"v":294},{"x":21,"y":8,"v":312},{"x":23,"y":8,"v":347},{"x":25,"y":8,"v":294},{"x":27,"y":8,"v":347},{"x":29,"y":8,"v":312},{"x":31,"y":8,"v":312},{"x":33,"y":8,"v":329},{"x":35,"y":8,"v":312},{"x":37,"y":8,"v":294},{"x":39,"y":8,"v":312},{"x":41,"y":8,"v":329},{"x":43,"y":8,"v":347},{"x":45,"y":8,"v":347},{"x":47,"y":8,"v":347},{"x":49,"y":8,"v":347},{"x":51,"y":8,"v":294},{"x":53,"y":8,"v":329},{"x":55,"y":8,"v":312},{"x":57,"y":8,"v":329},{"x":59,"y":8,"v":312},{"x":61,"y":8,"v":276},{"x":63,"y":8,"v":133},{"x":65,"y":8,"v":9},
{"x":7,"y":7,"v":98},{"x":9,"y":7,"v":169},{"x":11,"y":7,"v":190},{"x":13,"y":7,"v":276},{"x":15,"y":7,"v":240},{"x":17,"y":7,"v":294},{"x":19,"y":7,"v":329},{"x":21,"y":7,"v":329},{"x":23,"y":7,"v":294},{"x":25,"y":7,"v":312},{"x":27,"y":7,"v":312},{"x":29,"y":7,"v":329},{"x":31,"y":7,"v":312},{"x":33,"y":7,"v":294},{"x":35,"y":7,"v":329},{"x":37,"y":7,"v":312},{"x":39,"y":7,"v":312},{"x":41,"y":7,"v":347},{"x":43,"y":7,"v":347},{"x":45,"y":7,"v":312},{"x":47,"y":7,"v":329},{"x":49,"y":7,"v":347},{"x":51,"y":7,"v":294},{"x":53,"y":7,"v":347},{"x":55,"y":7,"v":329},{"x":57,"y":7,"v":294},{"x":59,"y":7,"v":294},{"x":61,"y":7,"v":133},{"x":63,"y":7,"v":9},
{"x":3,"y":6,"v":98},{"x":5,"y":6,"v":190},{"x":7,"y":6,"v":222},{"x":9,"y":6,"v":258},{"x":11,"y":6,"v":294},{"x":13,"y":6,"v":276},{"x":15,"y":6,"v":294},{"x":17,"y":6,"v":312},{"x":19,"y":6,"v":329},{"x":21,"y":6,"v":276},{"x":23,"y":6,"v":312},{"x":25,"y":6,"v":312},{"x":27,"y":6,"v":347},{"x":29,"y":6,"v":347},{"x":31,"y":6,"v":347},{"x":33,"y":6,"v":312},{"x":35,"y":6,"v":294},{"x":37,"y":6,"v":329},{"x":39,"y":6,"v":329},{"x":41,"y":6,"v":329},{"x":43,"y":6,"v":347},{"x":45,"y":6,"v":347},{"x":47,"y":6,"v":347},{"x":49,"y":6,"v":329},{"x":51,"y":6,"v":347},{"x":53,"y":6,"v":347},{"x":55,"y":6,"v":329},{"x":57,"y":6,"v":312},{"x":59,"y":6,"v":294},{"x":61,"y":6,"v":151},
{"x":3,"y":5,"v":98},{"x":5,"y":5,"v":190},{"x":7,"y":5,"v":240},{"x":9,"y":5,"v":258},{"x":11,"y":5,"v":294},{"x":13,"y":5,"v":258},{"x":15,"y":5,"v":329},{"x":17,"y":5,"v":312},{"x":19,"y":5,"v":312},{"x":21,"y":5,"v":347},{"x":23,"y":5,"v":294},{"x":25,"y":5,"v":347},{"x":27,"y":5,"v":347},{"x":29,"y":5,"v":347},{"x":31,"y":5,"v":329},{"x":33,"y":5,"v":329},{"x":35,"y":5,"v":294},{"x":37,"y":5,"v":347},{"x":39,"y":5,"v":329},{"x":41,"y":5,"v":347},{"x":43,"y":5,"v":347},{"x":45,"y":5,"v":347},{"x":47,"y":5,"v":312},{"x":49,"y":5,"v":347},{"x":51,"y":5,"v":329},{"x":53,"y":5,"v":276},{"x":55,"y":5,"v":329},{"x":57,"y":5,"v":276},{"x":59,"y":5,"v":190},
{"x":3,"y":4,"v":98},{"x":5,"y":4,"v":190},{"x":7,"y":4,"v":222},{"x":9,"y":4,"v":240},{"x":11,"y":4,"v":276},{"x":13,"y":4,"v":312},{"x":15,"y":4,"v":294},{"x":17,"y":4,"v":312},{"x":19,"y":4,"v":294},{"x":21,"y":4,"v":294},{"x":23,"y":4,"v":312},{"x":25,"y":4,"v":312},{"x":27,"y":4,"v":312},{"x":29,"y":4,"v":347},{"x":31,"y":4,"v":347},{"x":33,"y":4,"v":329},{"x":35,"y":4,"v":347},{"x":37,"y":4,"v":329},{"x":39,"y":4,"v":347},{"x":41,"y":4,"v":329},{"x":43,"y":4,"v":347},{"x":45,"y":4,"v":312},{"x":47,"y":4,"v":347},{"x":49,"y":4,"v":329},{"x":51,"y":4,"v":276},{"x":53,"y":4,"v":294},{"x":55,"y":4,"v":294},{"x":57,"y":4,"v":190},
{"x":3,"y":3,"v":80},{"x":5,"y":3,"v":190},{"x":7,"y":3,"v":190},{"x":9,"y":3,"v":240},{"x":11,"y":3,"v":240},{"x":13,"y":3,"v":294},{"x":15,"y":3,"v":294},{"x":17,"y":3,"v":294},{"x":19,"y":3,"v":276},{"x":21,"y":3,"v":276},{"x":23,"y":3,"v":312},{"x":25,"y":3,"v":329},{"x":27,"y":3,"v":329},{"x":29,"y":3,"v":347},{"x":31,"y":3,"v":312},{"x":33,"y":3,"v":347},{"x":35,"y":3,"v":347},{"x":37,"y":3,"v":347},{"x":39,"y":3,"v":329},{"x":41,"y":3,"v":347},{"x":43,"y":3,"v":347},{"x":45,"y":3,"v":312},{"x":47,"y":3,"v":347},{"x":49,"y":3,"v":312},{"x":51,"y":3,"v":258},{"x":53,"y":3,"v":294},{"x":55,"y":3,"v":151},{"x":57,"y":3,"v":9},
{"x":3,"y":2,"v":80},{"x":5,"y":2,"v":169},{"x":7,"y":2,"v":190},{"x":9,"y":2,"v":222},{"x":11,"y":2,"v":258},{"x":13,"y":2,"v":312},{"x":15,"y":2,"v":258},{"x":17,"y":2,"v":258},{"x":19,"y":2,"v":312},{"x":21,"y":2,"v":294},{"x":23,"y":2,"v":347},{"x":25,"y":2,"v":312},{"x":27,"y":2,"v":347},{"x":29,"y":2,"v":347},{"x":31,"y":2,"v":312},{"x":33,"y":2,"v":329},{"x":35,"y":2,"v":312},{"x":37,"y":2,"v":312},{"x":39,"y":2,"v":347},{"x":41,"y":2,"v":294},{"x":43,"y":2,"v":312},{"x":45,"y":2,"v":347},{"x":47,"y":2,"v":312},{"x":49,"y":2,"v":258},{"x":51,"y":2,"v":276},{"x":53,"y":2,"v":133},{"x":55,"y":2,"v":9},
{"x":3,"y":1,"v":98},{"x":5,"y":1,"v":151},{"x":7,"y":1,"v":240},{"x":9,"y":1,"v":258},{"x":11,"y":1,"v":294},{"x":13,"y":1,"v":312},{"x":15,"y":1,"v":312},{"x":17,"y":1,"v":312},{"x":19,"y":1,"v":347},{"x":21,"y":1,"v":329},{"x":23,"y":1,"v":329},{"x":25,"y":1,"v":329},{"x":27,"y":1,"v":347},{"x":29,"y":1,"v":312},{"x":31,"y":1,"v":312},{"x":33,"y":1,"v":347},{"x":35,"y":1,"v":329},{"x":37,"y":1,"v":347},{"x":39,"y":1,"v":347},{"x":41,"y":1,"v":347},{"x":43,"y":1,"v":329},{"x":45,"y":1,"v":347},{"x":47,"y":1,"v":294},{"x":49,"y":1,"v":240},{"x":51,"y":1,"v":190},{"x":53,"y":1,"v":9}
]},"mark":{"type":"rect","strokeWidth":0.6},"encoding":{"x":{"field":"x","bin":{"step":2,"extent":[0,120]},"type":"quantitative","scale":{"domain":[0,120],"nice":false},"axis":{"values":[0,5,10,15,20,25,30,35,40,45,50,55,60,65,70,75,80,85,90,95,100,105,110,115,120],"tickSize":{"expr":"datum.value%20===0?-22:-10"},"labelExpr":"datum.value%20===0?datum.label:''","labelPadding":30}},"y":{"field":"y","bin":{"step":1,"anchor":-0.5,"extent":[-0.5,40.5]},"type":"quantitative","scale":{"domain":[-0.5,40.5],"nice":false},"axis":{"values":[0,1,2,3,4,5,6,7,8,9,10,11,12,13,14,15,16,17,18,19,20,21,22,23,24,25,26,27,28,29,30,31,32,33,34,35,36,37,38,39,40],"tickSize":{"expr":"datum.value%5===0?-34:-16"},"labelExpr":"datum.value%5===0?datum.label:''","labelPadding":41}},"color":{"field":"v","type":"quantitative","legend":null,"scale":{"type":"quantize","domain":[0,356],"range":["#6a00f8","#3300ff","#0014ff","#0048f5","#0088ec","#00b2f0","#00f5f0","#00f5d0","#00f58f","#00f56a","#00f555","#00f555","#26fa00","#80fa00","#d2f800","#f8e400","#fa9c00","#fb6c00","#fb1800","#f80028"]}},"stroke":{"field":"v","type":"quantitative","legend":null,"scale":{"type":"quantize","domain":[0,356],"range":["#6a00f8","#3300ff","#0014ff","#0048f5","#0088ec","#00b2f0","#00f5f0","#00f5d0","#00f58f","#00f56a","#00f555","#00f555","#26fa00","#80fa00","#d2f800","#f8e400","#fa9c00","#fb6c00","#fb1800","#f80028"]}}}},{"width":59,"height":745,"data":{"values":[{"v":9,"lo":0,"hi":17.8},{"v":27,"lo":17.8,"hi":35.6},{"v":45,"lo":35.6,"hi":53.4},{"v":62,"lo":53.4,"hi":71.2},{"v":80,"lo":71.2,"hi":89},{"v":98,"lo":89,"hi":106.8},{"v":116,"lo":106.8,"hi":124.6},{"v":133,"lo":124.6,"hi":142.4},{"v":151,"lo":142.4,"hi":160.2},{"v":169,"lo":160.2,"hi":178},{"v":187,"lo":178,"hi":195.8},{"v":205,"lo":195.8,"hi":213.6},{"v":222,"lo":213.6,"hi":231.4},{"v":240,"lo":231.4,"hi":249.2},{"v":258,"lo":249.2,"hi":267},{"v":276,"lo":267,"hi":284.8},{"v":294,"lo":284.8,"hi":302.6},{"v":312,"lo":302.6,"hi":320.4},{"v":329,"lo":320.4,"hi":338.2},{"v":347,"lo":338.2,"hi":356}]},"mark":{"type":"rect","strokeWidth":0.6},"encoding":{"y":{"field":"lo","type":"quantitative","scale":{"domain":[0,356],"nice":false},"axis":{"orient":"right","values":[0,50,100,150,200,250,300,350],"tickSize":-32,"labelPadding":40}},"y2":{"field":"hi"},"color":{"field":"v","type":"quantitative","legend":null,"scale":{"type":"quantize","domain":[0,356],"range":["#6a00f8","#3300ff","#0014ff","#0048f5","#0088ec","#00b2f0","#00f5f0","#00f5d0","#00f58f","#00f56a","#00f555","#00f555","#26fa00","#80fa00","#d2f800","#f8e400","#fa9c00","#fb6c00","#fb1800","#f80028"]}},"stroke":{"field":"v","type":"quantitative","legend":null,"scale":{"type":"quantize","domain":[0,356],"range":["#6a00f8","#3300ff","#0014ff","#0048f5","#0088ec","#00b2f0","#00f5f0","#00f5d0","#00f58f","#00f56a","#00f555","#00f555","#26fa00","#80fa00","#d2f800","#f8e400","#fa9c00","#fb6c00","#fb1800","#f80028"]}}}}]}
